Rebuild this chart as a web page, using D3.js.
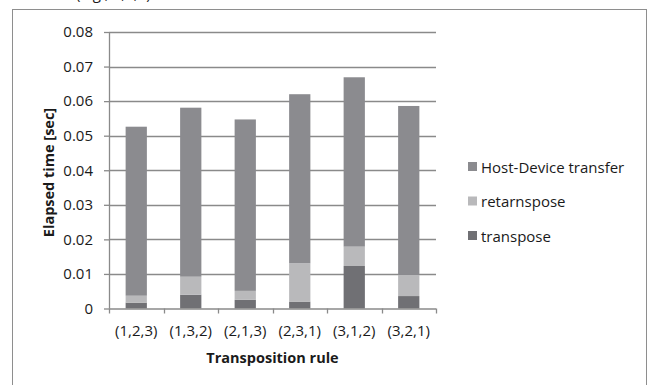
<!DOCTYPE html>
<html>
<head>
<meta charset="utf-8">
<script src="https://cdn.jsdelivr.net/npm/d3@7"></script>
<style>
  html, body { margin: 0; padding: 0; background: #fff; }
  svg { display: block; }
  text { font-family: "Open Sans", "Liberation Sans", sans-serif; fill: #1a1a1a; }
</style>
</head>
<body>
<svg id="chart" width="650" height="385"></svg>
<script>
// Transposition rules on the x axis
const rules = ["(1,2,3)", "(1,3,2)", "(2,1,3)", "(2,3,1)", "(3,1,2)", "(3,2,1)"];

// Elapsed time per phase, in seconds (stacked bottom to top)
const transpose          = [0.0017, 0.0040, 0.0025, 0.0020, 0.0123, 0.0036];
const retarnspose        = [0.0020, 0.0052, 0.0026, 0.0111, 0.0056, 0.0061];
const hostDeviceTransfer = [0.0489, 0.0489, 0.0496, 0.0489, 0.0490, 0.0489];

const yTicks = [0, 0.01, 0.02, 0.03, 0.04, 0.05, 0.06, 0.07, 0.08];
const yTickLabels = ["0", "0.01", "0.02", "0.03", "0.04", "0.05", "0.06", "0.07", "0.08"];

const seriesKeys = ["transpose", "retarnspose", "Host-Device transfer"];
const seriesColors = {
  "transpose": "#707074",
  "retarnspose": "#b9b9bb",
  "Host-Device transfer": "#8b8b8f"
};
const legendOrder = ["Host-Device transfer", "retarnspose", "transpose"];

const rows = rules.map((r, i) => ({
  rule: r,
  "transpose": transpose[i],
  "retarnspose": retarnspose[i],
  "Host-Device transfer": hostDeviceTransfer[i]
}));

const svg = d3.select("#chart");
const axisGray = "#8a8a8a";

// Outer chart frame (runs past the bottom edge)
svg.append("rect")
  .attr("x", 12.5).attr("y", 9.5)
  .attr("width", 634).attr("height", 400)
  .attr("fill", "none").attr("stroke", "#8e8e8e").attr("stroke-width", 1);

// Caption line above the frame; only its lowest strokes fall inside the page
svg.append("text")
  .attr("x", 76).attr("y", -1)
  .style("font-size", "15px")
  .text("(e.g., 3,3,3)");

const plot = { left: 109, right: 436, top: 32, bottom: 308.5 };

const x = d3.scaleBand().domain(rules).range([plot.left, plot.right]).padding(0);
const y = d3.scaleLinear().domain([0, 0.08]).range([plot.bottom, plot.top]);

// Horizontal gridlines
svg.append("g").selectAll("line")
  .data(yTicks.filter(t => t > 0))
  .join("line")
  .attr("x1", plot.left).attr("x2", plot.right)
  .attr("y1", d => Math.round(y(d)) + 0.5).attr("y2", d => Math.round(y(d)) + 0.5)
  .attr("stroke", axisGray).attr("stroke-width", 1.3);

// Stacked bars
const stacked = d3.stack().keys(seriesKeys)(rows);
const barW = x.bandwidth() * 0.39;
svg.append("g").selectAll("g")
  .data(stacked)
  .join("g")
  .attr("fill", d => seriesColors[d.key])
  .selectAll("rect")
  .data(d => d)
  .join("rect")
  .attr("x", d => x(d.data.rule) + (x.bandwidth() - barW) / 2)
  .attr("width", barW)
  .attr("y", d => y(d[1]))
  .attr("height", d => y(d[0]) - y(d[1]));

// Y axis
const yAxis = d3.axisLeft(y)
  .tickValues(yTicks)
  .tickFormat((d, i) => yTickLabels[i])
  .tickSize(5)
  .tickPadding(11);
const gy = svg.append("g").attr("transform", `translate(${plot.left},0)`).call(yAxis);
gy.select(".domain").attr("stroke", axisGray).attr("stroke-width", 1.3).attr("d", `M0.5,${plot.top}V${plot.bottom}`);
gy.selectAll(".tick line").attr("stroke", axisGray).attr("stroke-width", 1.3);
gy.selectAll(".tick text")
  .style("font-size", "15px")
  .style("font-family", "'Open Sans', sans-serif")
  .attr("fill", "#1a1a1a");

// X axis: labels centred in each band, ticks on band boundaries
const xAxis = d3.axisBottom(x).tickSize(0).tickPadding(17);
const gx = svg.append("g").attr("transform", `translate(0,${plot.bottom})`).call(xAxis);
gx.select(".domain").attr("stroke", axisGray).attr("stroke-width", 1.3).attr("d", `M${plot.left},0.5H${plot.right}`);
gx.selectAll(".tick text")
  .style("font-size", "15px")
  .style("font-family", "'Open Sans', sans-serif")
  .attr("fill", "#1a1a1a");
const boundaries = rules.map(r => x(r)).concat([x(rules[rules.length - 1]) + x.bandwidth()]);
gx.append("g").selectAll("line")
  .data(boundaries)
  .join("line")
  .attr("x1", d => Math.round(d) + 0.5).attr("x2", d => Math.round(d) + 0.5)
  .attr("y1", 0).attr("y2", 5)
  .attr("stroke", axisGray).attr("stroke-width", 1.3);

// Axis titles
svg.append("text")
  .attr("x", (plot.left + plot.right) / 2).attr("y", 363)
  .attr("text-anchor", "middle")
  .style("font-size", "14.5px").style("font-weight", "bold")
  .text("Transposition rule");

svg.append("text")
  .attr("transform", `translate(54,172.5) rotate(-90)`)
  .attr("text-anchor", "middle")
  .style("font-size", "14.5px").style("font-weight", "bold")
  .text("Elapsed time [sec]");

// Legend
const legend = svg.append("g").attr("transform", "translate(468,0)");
const lg = legend.selectAll("g")
  .data(legendOrder)
  .join("g")
  .attr("transform", (d, i) => `translate(0,${167 + i * 34.5})`);
lg.append("rect")
  .attr("x", 0).attr("y", -5).attr("width", 9).attr("height", 9)
  .attr("fill", d => seriesColors[d]);
lg.append("text")
  .attr("x", 13).attr("y", 5.5)
  .style("font-size", "15px")
  .text(d => d);
</script>
</body>
</html>
